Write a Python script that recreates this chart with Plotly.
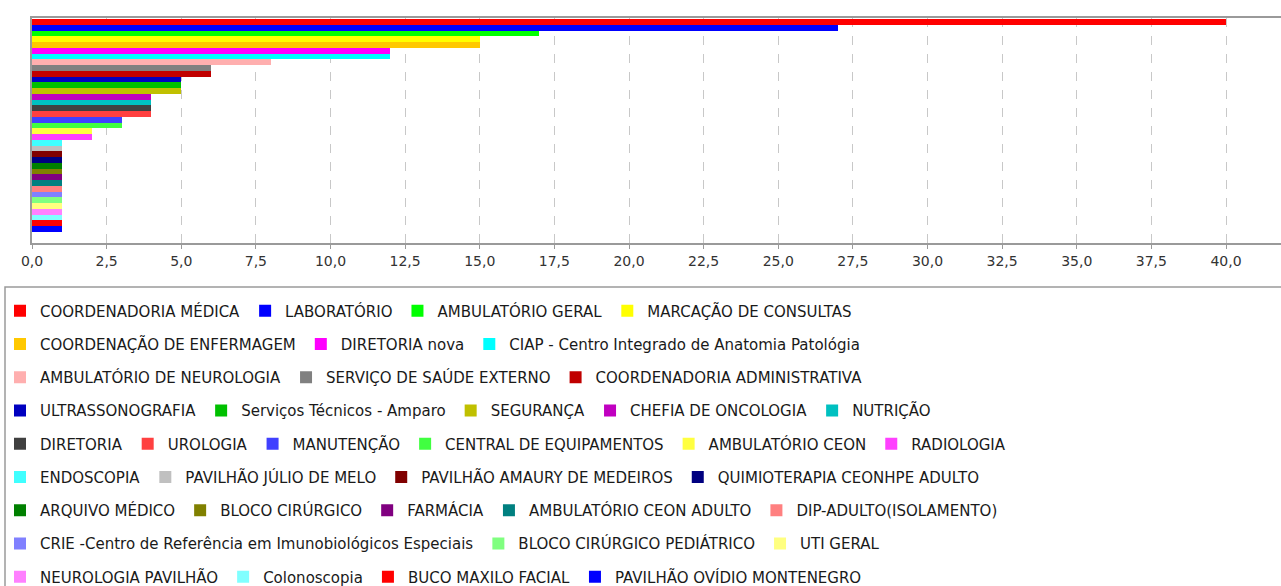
import plotly.graph_objects as go

# ---------------- data ----------------
names = [
    "COORDENADORIA MÉDICA", "LABORATÓRIO", "AMBULATÓRIO GERAL", "MARCAÇÃO DE CONSULTAS",
    "COORDENAÇÃO DE ENFERMAGEM", "DIRETORIA nova", "CIAP - Centro Integrado de Anatomia Patológia",
    "AMBULATÓRIO DE NEUROLOGIA", "SERVIÇO DE SAÚDE EXTERNO", "COORDENADORIA ADMINISTRATIVA",
    "ULTRASSONOGRAFIA", "Serviços Técnicos - Amparo", "SEGURANÇA", "CHEFIA DE ONCOLOGIA", "NUTRIÇÃO",
    "DIRETORIA", "UROLOGIA", "MANUTENÇÃO", "CENTRAL DE EQUIPAMENTOS", "AMBULATÓRIO CEON", "RADIOLOGIA",
    "ENDOSCOPIA", "PAVILHÃO JÚLIO DE MELO", "PAVILHÃO AMAURY DE MEDEIROS", "QUIMIOTERAPIA CEONHPE ADULTO",
    "ARQUIVO MÉDICO", "BLOCO CIRÚRGICO", "FARMÁCIA", "AMBULATÓRIO CEON ADULTO", "DIP-ADULTO(ISOLAMENTO)",
    "CRIE -Centro de Referência em Imunobiológicos Especiais", "BLOCO CIRÚRGICO PEDIÁTRICO", "UTI GERAL",
    "NEUROLOGIA PAVILHÃO", "Colonoscopia", "BUCO MAXILO FACIAL", "PAVILHÃO OVÍDIO MONTENEGRO",
]
values = [40, 27, 17, 15, 15, 12, 12, 8, 6, 6, 5, 5, 5, 4, 4, 4, 4, 3, 3, 2, 2,
          1, 1, 1, 1, 1, 1, 1, 1, 1, 1, 1, 1, 1, 1, 1, 1]
colors = [
    "#FF0000", "#0000FF", "#00FF00", "#FFFF00", "#FFC800", "#FF00FF", "#00FFFF", "#FFAFAF",
    "#808080", "#C00000", "#0000C0", "#00C000", "#C0C000", "#C000C0", "#00C0C0", "#404040",
    "#FF4040", "#4040FF", "#40FF40", "#FFFF40", "#FF40FF", "#40FFFF", "#C0C0C0",
    "#800000", "#000080", "#008000", "#808000", "#800080", "#008080",
    "#FF8080", "#8080FF", "#80FF80", "#FFFF80", "#FF80FF", "#80FFFF",
    "#FF0000", "#0000FF",
]
# number of legend entries in each legend row
row_sizes = [4, 3, 3, 5, 6, 4, 5, 3, 4]
tick_step = 2.5

# ---------------- layout geometry ----------------
W, H = 1281, 586
L, T, R, B = 32, 18, 0, 343
plot_w = W - L - R
plot_h = H - T - B
px_per_unit = (1226 - 32) / 40.0
x_max = plot_w / px_per_unit

def px_to_paper_x(px):
    return (px - L) / plot_w

def px_to_paper_y(py):
    return (H - B - py) / plot_h

# legend assignment per trace
legend_keys = []
for r, n in enumerate(row_sizes):
    key = "legend" if r == 0 else f"legend{r + 1}"
    legend_keys.extend([key] * n)

fig = go.Figure()
for name, val, col, lk in zip(names, values, colors, legend_keys):
    fig.add_trace(go.Bar(
        x=[val], y=[0], orientation="h", name=name,
        marker=dict(color=col, line=dict(width=0)),
        legend=lk,
    ))

font_family = "DejaVu Sans"
legend_font = dict(family=font_family, size=15, color="#1a1a1a")

layout_legends = {}
row_y0 = 311
row_pitch = 33.25
for r in range(len(row_sizes)):
    key = "legend" if r == 0 else f"legend{r + 1}"
    layout_legends[key] = dict(
        orientation="h",
        x=px_to_paper_x(0), xanchor="left",
        y=px_to_paper_y(row_y0 + r * row_pitch), yanchor="middle",
        bgcolor="rgba(0,0,0,0)", borderwidth=0,
        font=legend_font, traceorder="normal",
    )

fig.update_layout(
    width=W, height=H,
    margin=dict(l=L, r=R, t=T, b=B, pad=0, autoexpand=False),
    paper_bgcolor="white", plot_bgcolor="white",
    barmode="group", bargap=0, bargroupgap=0,
    separators=",.",
    showlegend=True,
    **layout_legends,
)

fig.update_xaxes(
    range=[0, x_max], tick0=0, dtick=tick_step, tickformat=".1f",
    showgrid=True, gridcolor="#c8c8c8", griddash="dash", gridwidth=1,
    showline=True, linecolor="#9a9a9a", linewidth=2, mirror=True,
    ticks="outside", ticklen=4, tickcolor="#9a9a9a", tickwidth=1,
    tickfont=dict(family=font_family, size=14, color="#333333"),
    zeroline=False,
)
fig.update_yaxes(
    range=[0.5529, -0.5047], showticklabels=False, showgrid=False, zeroline=False,
    showline=True, linecolor="#9a9a9a", linewidth=2, mirror=False, ticks="",
)

# legend frame
fig.add_shape(
    type="rect", xref="paper", yref="paper",
    x0=px_to_paper_x(5), x1=px_to_paper_x(1300),
    y0=px_to_paper_y(287), y1=px_to_paper_y(600),
    line=dict(color="#9a9a9a", width=1.5), fillcolor="rgba(0,0,0,0)", layer="below",
)

fig.write_html(
    "out.html",
    config={"displayModeBar": False},
    post_script="document.body.style.margin='0';document.documentElement.style.overflow='hidden';",
)
